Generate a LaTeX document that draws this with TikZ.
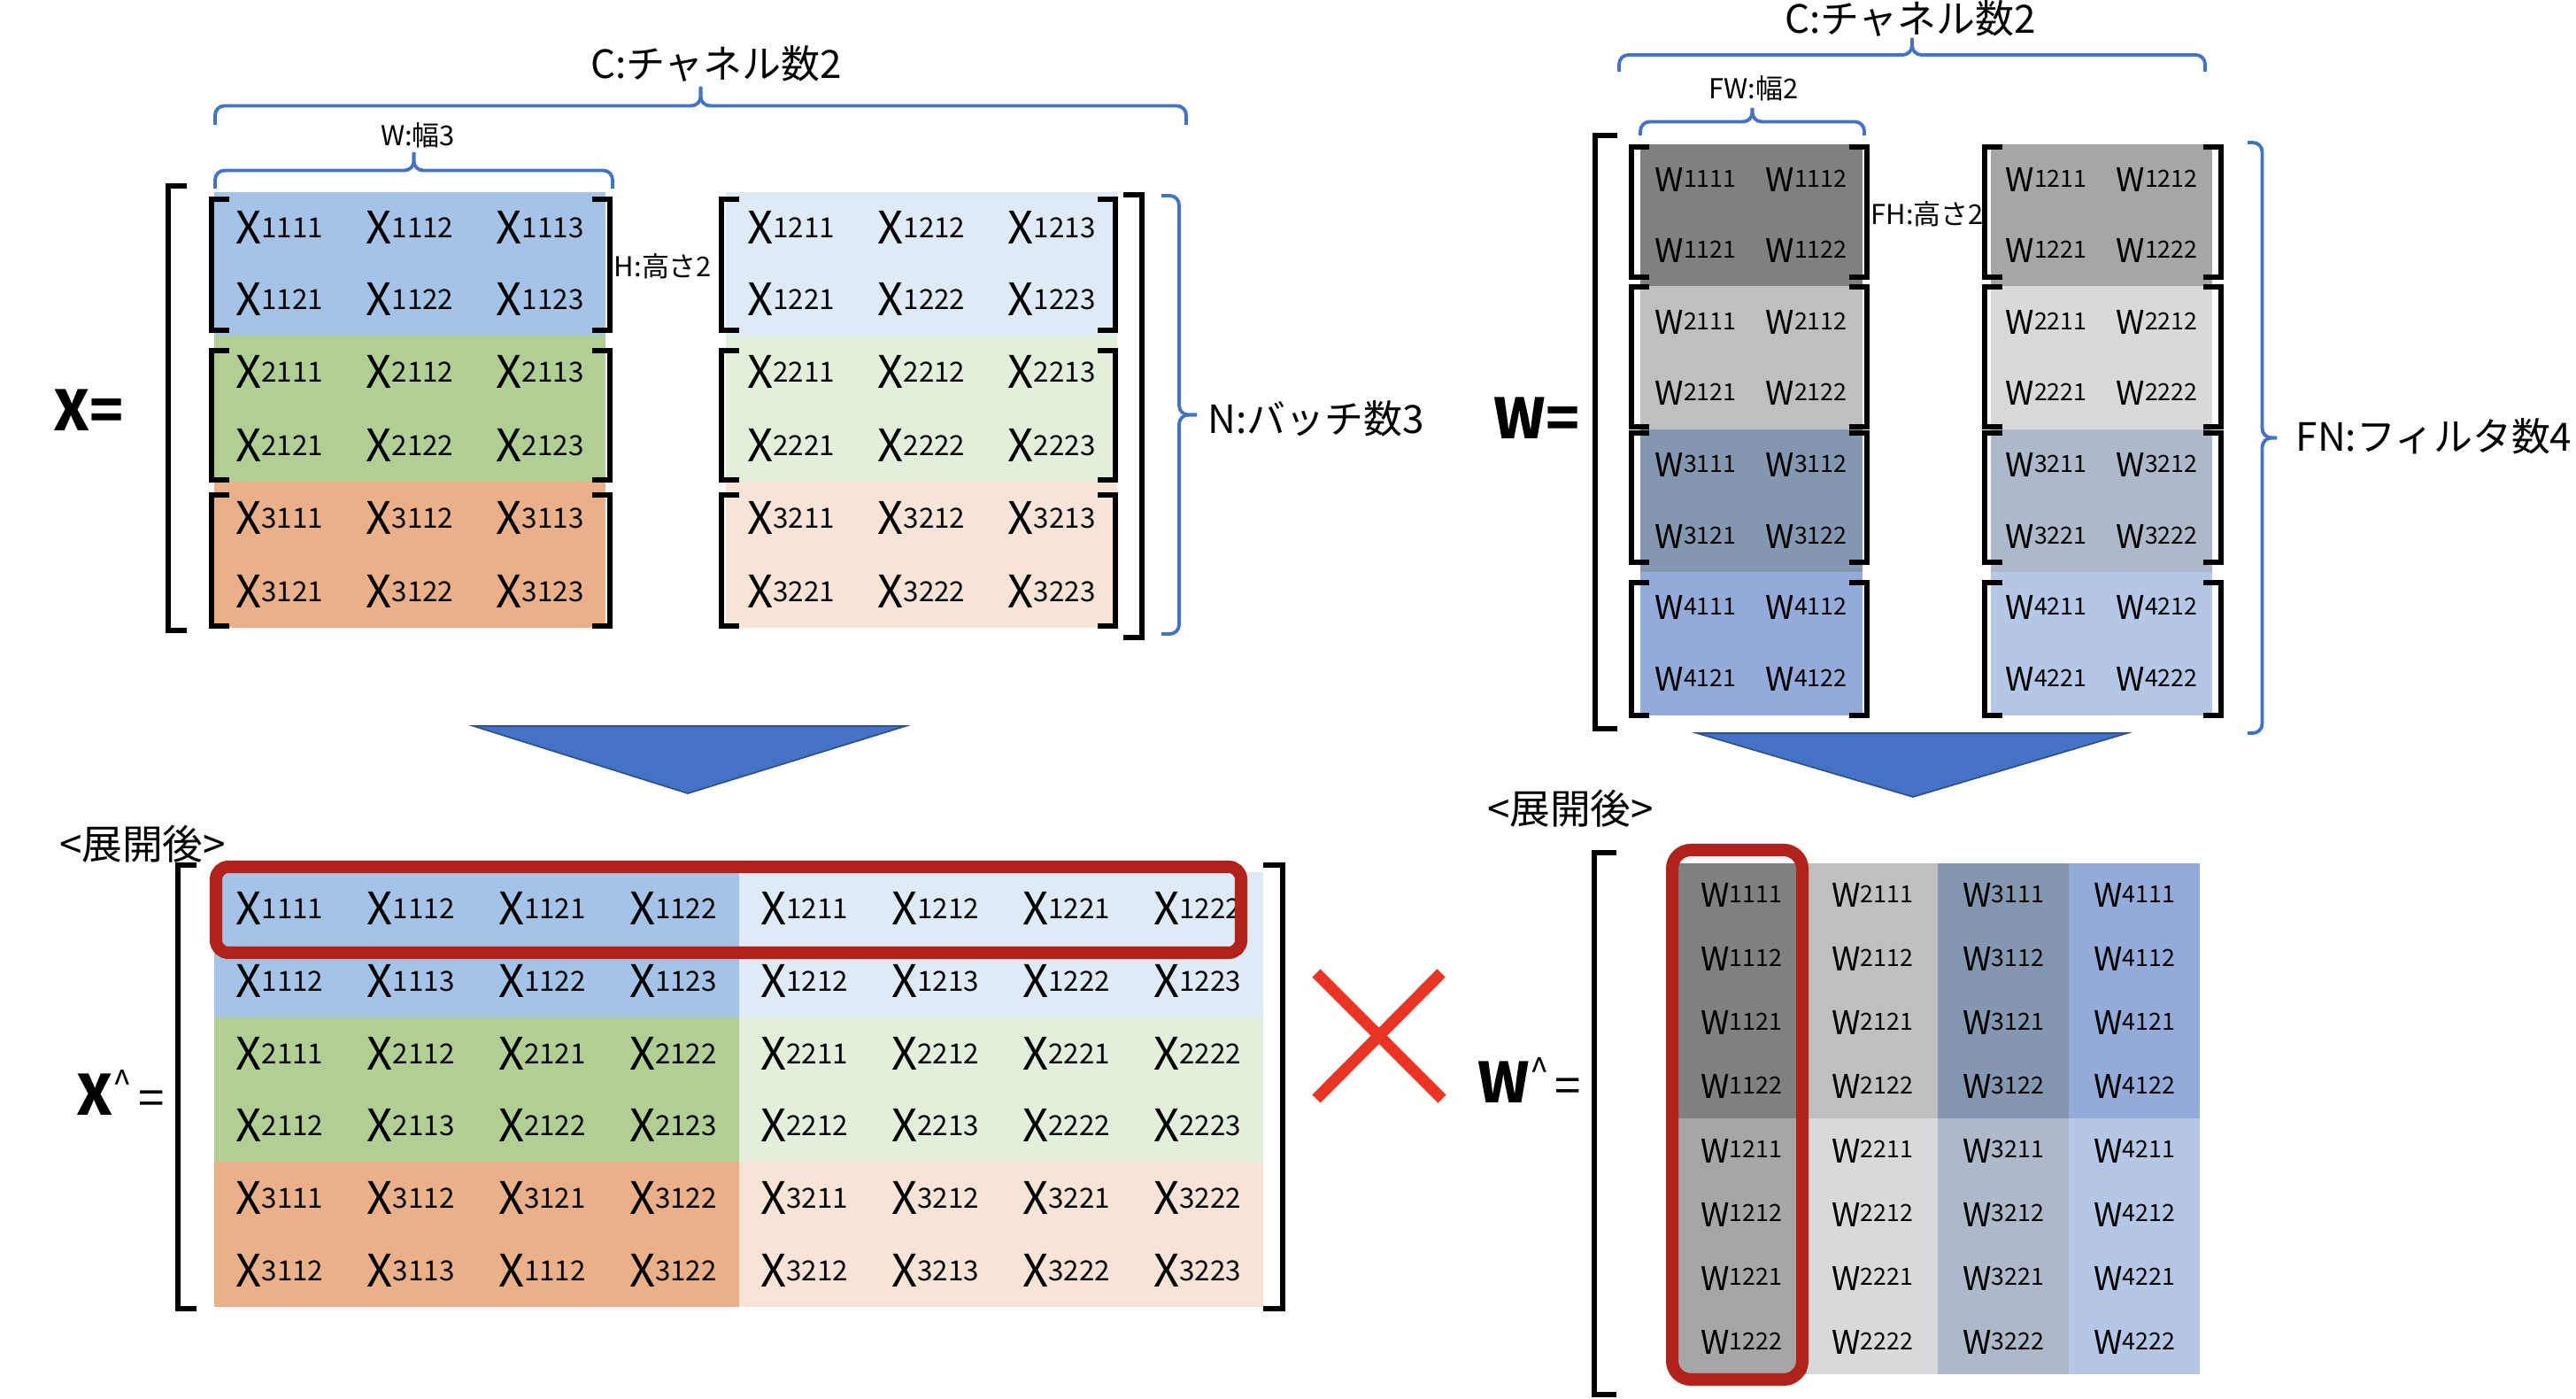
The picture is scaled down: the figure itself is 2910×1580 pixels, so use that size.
\documentclass[tikz,border=0pt]{standalone}
\usepackage{fontspec}
\setmainfont{Noto Sans CJK JP}
\usepackage{tikz}

\definecolor{xblue}{HTML}{A5C3E6}
\definecolor{xlblue}{HTML}{DEEBF7}
\definecolor{xgreen}{HTML}{B1CE94}
\definecolor{xlgreen}{HTML}{E2EFDA}
\definecolor{xorange}{HTML}{E9B08A}
\definecolor{xlorange}{HTML}{F7E4D6}
\definecolor{wgray}{HTML}{808080}
\definecolor{wlgray}{HTML}{A6A6A6}
\definecolor{wsilver}{HTML}{BFBFBF}
\definecolor{wlsilver}{HTML}{D9D9D9}
\definecolor{wslate}{HTML}{8497B0}
\definecolor{wlslate}{HTML}{ADB9CA}
\definecolor{wblue}{HTML}{94ABDA}
\definecolor{wlblue}{HTML}{B4C7E7}
\definecolor{braceblue}{HTML}{4472C4}
\definecolor{arrowblue}{HTML}{4472C4}
\definecolor{arrowedge}{HTML}{2F528F}
\definecolor{markred}{HTML}{B0221A}
\definecolor{crossred}{HTML}{E93323}

\newcommand{\xcell}[1]{{\fontsize{14.4}{15}\selectfont X}\raisebox{2pt}{\fontsize{8.9}{9}\selectfont #1}}
\newcommand{\wcell}[1]{{\fontsize{10.5}{11}\selectfont W}\raisebox{1.5pt}{\fontsize{7.6}{8}\selectfont #1}}
% brace: two halves meeting at the tip
\newcommand{\hbrace}[4]{% x1, x2, y of ends, y of tip
  \draw[brc] (#1,#3) -- (#1,{(#3+#4)/2}) -- ({(#1+#2)/2},{(#3+#4)/2}) -- ({(#1+#2)/2},#4);
  \draw[brc] (#2,#3) -- (#2,{(#3+#4)/2}) -- ({(#1+#2)/2},{(#3+#4)/2}) -- ({(#1+#2)/2},#4);}
\newcommand{\vbrace}[4]{% x of ends, x of tip, y1, y2
  \draw[brc] (#1,#3) -- ({(#1+#2)/2},#3) -- ({(#1+#2)/2},{(#3+#4)/2}) -- (#2,{(#3+#4)/2});
  \draw[brc] (#1,#4) -- ({(#1+#2)/2},#4) -- ({(#1+#2)/2},{(#3+#4)/2}) -- (#2,{(#3+#4)/2});}

\tikzset{
  cell/.style={inner sep=0pt},
  brk/.style={line width=1.5pt},
  brc/.style={draw=braceblue, line width=1.1pt, rounded corners=3pt},
  biglbl/.style={inner sep=0pt, font=\fontsize{12.5}{13}\selectfont},
  smalllbl/.style={inner sep=0pt, font=\fontsize{8.8}{9}\selectfont},
  eqlbl/.style={inner sep=0pt, font=\fontsize{17.8}{18}\selectfont},
  downarrow/.style={fill=arrowblue, draw=arrowedge, line width=0.5pt},
  pick/.style={draw=markred, line width=4pt, rounded corners=#1},
  cross/.style={draw=crossred, line width=3.7pt},
}

\begin{document}
\begin{tikzpicture}[x=0.01cm, y=-0.01cm]
\useasboundingbox (0,0) rectangle (2910,1580);

% ---- input X ----
\foreach \nb/\ya/\yb/\ca/\cb in {1/217/379/xblue/xlblue, 2/379/544/xgreen/xlgreen, 3/544/709/xorange/xlorange}{
  \fill[\ca] (242,\ya) rectangle (684,\yb);
  \fill[\cb] (820,\ya) rectangle (1262,\yb);
}
\foreach \nb/\ya/\yb in {1/257/338, 2/420/503, 3/585/668}
  \foreach \ch/\xo in {1/242, 2/820}
    \foreach \w in {1,2,3}{
      \node[cell] (x\nb\ch1\w) at (\xo+147.3*\w-73.7,\ya) {\xcell{\nb\ch1\w}};
      \node[cell] (x\nb\ch2\w) at (\xo+147.3*\w-73.7,\yb) {\xcell{\nb\ch2\w}};
    }
\foreach \ya/\yb in {225/373, 396/542, 559/707}
  \foreach \xl/\xr in {239/689, 815/1260}{
    \draw[brk] (\xl+20,\ya) -- (\xl,\ya) -- (\xl,\yb) -- (\xl+20,\yb);
    \draw[brk] (\xr-20,\ya) -- (\xr,\ya) -- (\xr,\yb) -- (\xr-20,\yb);
  }
\draw[brk] (211,210) -- (190,210) -- (190,712) -- (211,712);
\draw[brk] (1269,220) -- (1290,220) -- (1290,720) -- (1269,720);

\hbrace{243}{1340}{141}{98}
\hbrace{243}{692}{213}{172}
\vbrace{1312}{1352}{221}{716}
\node[biglbl] (chanx) at (809,72) {C:チャネル数2};
\node[smalllbl] (widthx) at (472,153) {W:幅3};
\node[smalllbl] (heightx) at (749,301) {H:高さ2};
\node[biglbl, anchor=west] (batchx) at (1364,473) {N:バッチ数3};
\node[eqlbl] (xeq) at (100,463) {\bfseries X=};

% ---- filter W ----
\foreach \f/\ya/\yb/\ca/\cb in {1/163/323/wgray/wlgray, 2/323/485/wsilver/wlsilver, 3/485/646/wslate/wlslate, 4/646/808/wblue/wlblue}{
  \fill[\ca] (1853,\ya) rectangle (2104,\yb);
  \fill[\cb] (2249,\ya) rectangle (2499,\yb);
}
\foreach \f/\ya/\yb in {1/203/283, 2/364/444, 3/525/606, 4/686/767}
  \foreach \ch/\xo in {1/1853, 2/2249}
    \foreach \w in {1,2}{
      \node[cell] (w\f\ch1\w) at (\xo+125*\w-62.5,\ya) {\wcell{\f\ch1\w}};
      \node[cell] (w\f\ch2\w) at (\xo+125*\w-62.5,\yb) {\wcell{\f\ch2\w}};
    }
\foreach \ya/\yb in {166/313, 324/482, 489/635, 658/808}
  \foreach \xl/\xr in {1843/2109, 2242/2509}{
    \draw[brk] (\xl+20,\ya) -- (\xl,\ya) -- (\xl,\yb) -- (\xl+20,\yb);
    \draw[brk] (\xr-20,\ya) -- (\xr,\ya) -- (\xr,\yb) -- (\xr-20,\yb);
  }
\draw[brk] (1827,153) -- (1802,153) -- (1802,823) -- (1827,823);

\hbrace{1829}{2491}{81}{43}
\hbrace{1853}{2106}{153}{122}
\vbrace{2539}{2572}{161}{828}
\node[biglbl] (chanw) at (2158,21) {C:チャネル数2};
\node[smalllbl] (widthw) at (1981,100) {FW:幅2};
\node[smalllbl] (heightw) at (2177,242) {FH:高さ2};
\node[biglbl, anchor=west] (filterw) at (2593,493) {FN:フィルタ数4};
\node[eqlbl] (weq) at (1736,472) {\bfseries W=};

% ---- arrows ----
\draw[downarrow] (535,820) -- (1023,820) -- (777,896) -- cycle;
\draw[downarrow] (1917,828) -- (2403,828) -- (2161,900) -- cycle;

% ---- expanded X ----
\foreach \k/\ca/\cb in {0/xblue/xlblue, 1/xgreen/xlgreen, 2/xorange/xlorange}{
  \fill[\ca] (242,985+163.7*\k) rectangle (835,1148.7+163.7*\k);
  \fill[\cb] (835,985+163.7*\k) rectangle (1427,1148.7+163.7*\k);
}
\foreach \row [count=\r] in {{1111,1112,1121,1122,1211,1212,1221,1222},
                             {1112,1113,1122,1123,1212,1213,1222,1223},
                             {2111,2112,2121,2122,2211,2212,2221,2222},
                             {2112,2113,2122,2123,2212,2213,2222,2223},
                             {3111,3112,3121,3122,3211,3212,3221,3222},
                             {3112,3113,1112,3122,3212,3213,3222,3223}}
  \foreach \v [count=\c] in \row
    \node[cell] (xh\r\c) at (242+148.1*\c-74,985+81.8*\r-40.9) {\xcell{\v}};
\draw[brk] (222,977) -- (201,977) -- (201,1478) -- (222,1478);
\draw[brk] (1427,977) -- (1449,977) -- (1449,1478) -- (1427,1478);
\draw[pick=4pt] (244,979) rectangle (1402,1076);
\node[biglbl, font=\fontsize{13}{13}\selectfont] (expx) at (161,953) {<展開後>};
\node[eqlbl] (xhateq) at (136,1234) {\textbf{X}\raisebox{6pt}{\fontsize{11}{11}\selectfont\textasciicircum}\hspace{2pt}{\fontsize{15}{15}\selectfont =}};

% ---- times ----
\draw[cross] (1487,1099) -- (1629,1241);
\draw[cross] (1628,1099) -- (1487,1241);

% ---- expanded W ----
\foreach \f/\ca/\cb in {1/wgray/wlgray, 2/wsilver/wlsilver, 3/wslate/wlslate, 4/wblue/wlblue}{
  \fill[\ca] (1745+148*\f,975) rectangle (1893+148*\f,1263);
  \fill[\cb] (1745+148*\f,1263) rectangle (1893+148*\f,1552);
}
\foreach \ch in {1,2}
  \foreach \hw [count=\k] in {11,12,21,22}
    \foreach \f in {1,...,4}{
      \pgfmathtruncatemacro{\r}{4*\ch+\k-4}
      \node[cell] (wh\r\f) at (1819+148*\f,975+72.1*\r-36) {\wcell{\f\ch\hw}};
    }
\draw[brk] (1826,963) -- (1801,963) -- (1801,1575) -- (1826,1575);
\draw[pick=6pt] (1889,960) rectangle (2036,1558);
\node[biglbl, font=\fontsize{13}{13}\selectfont] (expw) at (1774,913) {<展開後>};
\node[eqlbl] (whateq) at (1728,1220) {\textbf{W}\raisebox{6pt}{\fontsize{11}{11}\selectfont\textasciicircum}\hspace{2pt}{\fontsize{15}{15}\selectfont =}};
\end{tikzpicture}
\end{document}
